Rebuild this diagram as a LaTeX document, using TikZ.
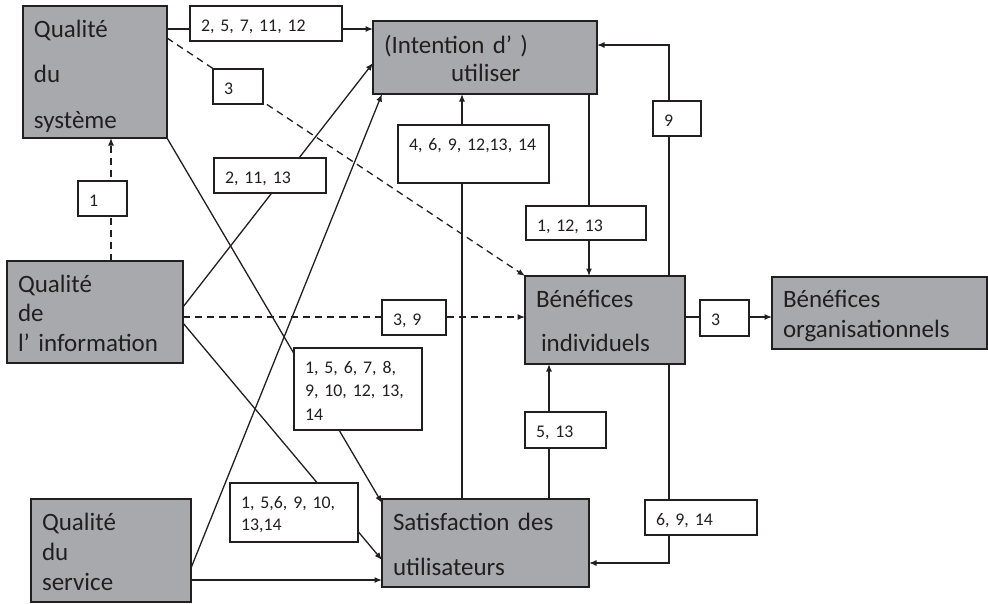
\documentclass[tikz,border=0pt]{standalone}
\usepackage{fontspec}
\setmainfont{Carlito}
\usetikzlibrary{arrows.meta,calc,positioning}

\definecolor{boxgray}{RGB}{168,169,172}
\definecolor{ink}{RGB}{35,31,32}

\tikzset{
	factor/.style={draw=ink, line width=1.3pt, fill=boxgray, text=ink, anchor=north west,
		outer sep=0pt, inner xsep=11pt, inner ysep=0pt, align=left,
		font=\fontsize{25}{30}\selectfont},
	numbox/.style={draw=ink, line width=1.2pt, fill=white, text=ink, anchor=north west,
		outer sep=0pt, inner xsep=11pt, inner ysep=0pt, align=left,
		text height=25.5pt, text depth=9.5pt, font=\fontsize{17.8}{23.5}\selectfont},
	conn/.style={draw=ink, line width=1.3pt, -{Latex[length=7.5pt,width=6pt]}},
	dashconn/.style={conn, dash pattern=on 7pt off 5pt},
}

\begin{document}
\begin{tikzpicture}[x=1pt,y=-1pt]
		\path[use as bounding box, fill=white] (0,0) rectangle (988,603);
		% les dimensions
		\node[factor, text width=122pt, text height=31pt, text depth=101pt] (sysq) at (23,6) {Qualité\\[15.5pt]du\\[15.5pt]système};
		\node[factor, text width=202pt, text height=32pt, text depth=41pt] (use) at (373,21) {(Intention d’ )\\[-2pt]\hspace*{67pt}utiliser};
		\node[factor, text width=154pt, text height=31pt, text depth=71pt] (infoq) at (7,261) {Qualité\\[-0.5pt]de\\[-0.5pt]l’ information};
		\node[factor, text width=138pt, text height=31pt, text depth=57pt] (indiv) at (525,276) {Bénéfices\\[14pt]\hspace*{5pt}individuels};
		\node[factor, text width=193pt, text height=30pt, text depth=42pt] (org) at (772,277) {Bénéfices\\organisationnels};
		\node[factor, text width=138pt, text height=31pt, text depth=72pt] (servq) at (31,499) {Qualité\\du\\service};
		\node[factor, text width=185pt, text height=31pt, text depth=57pt] (satis) at (382,499) {Satisfaction des\\[15pt]utilisateurs};

		% les liens
		\draw[conn] ($(sysq.north east)+(0,23)$) -- ($(use.north west)+(0,8)$);
		\draw[dashconn] ($(sysq.north east)+(0,32)$) -- (indiv.north west);
		\draw[dashconn] ($(infoq.north west)+(104,0)$) -- ($(sysq.south west)+(88,0)$);
		\draw[conn] ($(infoq.north east)+(0,46)$) -- ($(use.north west)+(0,42)$);
		\draw[conn] ($(servq.north east)+(0,69)$) -- ($(use.south west)+(9,0)$);
		\draw[conn] (sysq.south east) -- ($(satis.north west)+(0,4)$);
		\draw[conn] ($(infoq.north east)+(0,62)$) -- ($(satis.north west)+(0,61)$);
		\draw[conn] ($(servq.north east)+(0,81)$) -- ($(satis.north west)+(0,81)$);
		\draw[dashconn] ($(infoq.north east)+(0,56)$) -- ($(indiv.north west)+(0,41)$);
		\draw[conn] ($(satis.north west)+(80,0)$) -- ($(use.south west)+(89,0)$);
		\draw[conn] ($(use.south west)+(216,0)$) -- ($(indiv.north west)+(64,0)$);
		\draw[conn] ($(indiv.north west)+(144,0)$) |- ($(use.north east)+(0,24)$);
		\draw[conn] ($(indiv.south west)+(144,0)$) |- ($(satis.north east)+(0,64)$);
		\draw[conn] ($(satis.north west)+(167,0)$) -- ($(indiv.south west)+(24,0)$);
		\draw[conn] ($(indiv.north east)+(0,41)$) -- ($(org.north west)+(0,40)$);

		% les etiquettes
		\node[numbox, text width=130pt] (n-sys-use) at (190,6) {2, 5, 7, 11, 12};
		\node[numbox, text width=28pt] (n-sys-ind) at (213,69) {3};
		\node[numbox, text width=27pt] (n-info-sys) at (78,181) {1};
		\node[numbox, text width=90pt] (n-info-use) at (214,158) {2, 11, 13};
		\node[numbox, text width=42pt] (n-info-ind) at (382,300) {3, 9};
		\node[numbox, text width=106pt, text height=25pt, text depth=57pt] (n-sys-sat) at (294,348) {1, 5, 6, 7, 8,\\9, 10, 12, 13,\\14};
		\node[numbox, text width=106pt, text height=25pt, text depth=34pt] (n-info-sat) at (230,483) {1, 5,6, 9, 10,\\[-1.5pt]13,14};
		\node[numbox, text width=129pt, text height=25pt, text depth=33pt] (n-sat-use) at (398,125) {4, 6, 9, 12,13, 14};
		\node[numbox, text width=98pt, text depth=8.5pt] (n-use-ind) at (526,206) {1, 12, 13};
		\node[numbox, text width=26pt] (n-ind-use) at (653,101) {9};
		\node[numbox, text width=90pt] (n-ind-sat) at (645,500) {6, 9, 14};
		\node[numbox, text width=59pt, text depth=10.5pt] (n-sat-ind) at (525,412) {5, 13};
		\node[numbox, text width=27pt, text depth=10.5pt] (n-ind-org) at (700,300) {3};
\end{tikzpicture}
\end{document}
